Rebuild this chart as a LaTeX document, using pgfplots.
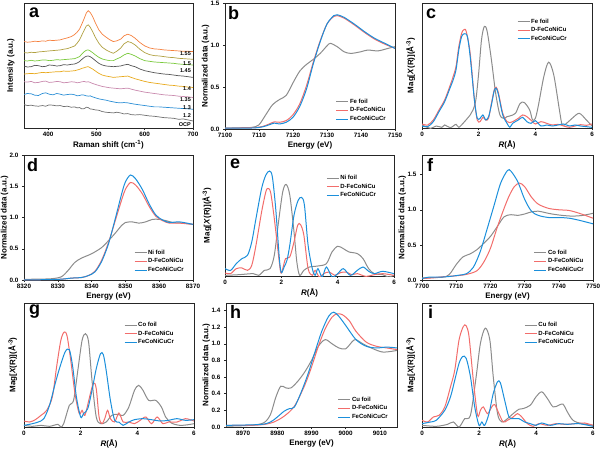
\documentclass[border=0pt]{standalone}
\usepackage{fontspec}
\setmainfont{Liberation Sans}
\usepackage{pgfplots}
\pgfplotsset{compat=1.18}

\definecolor{cgray}{HTML}{8C8C8C}
\definecolor{cred}{HTML}{F26D6B}
\definecolor{cblue}{HTML}{1B8FDB}
\definecolor{rOrange}{HTML}{F5803E}
\definecolor{rKhaki}{HTML}{B0A040}
\definecolor{rGreen}{HTML}{7AC93C}
\definecolor{rDark}{HTML}{555555}
\definecolor{rGold}{HTML}{E8A91C}
\definecolor{rPink}{HTML}{C98AAE}
\definecolor{rBlue}{HTML}{2C8FD5}
\definecolor{rGray}{HTML}{6F6F6F}

\pgfplotsset{
  legend image code/.code={\draw[#1, line width=1.1pt] (0pt,0pt) -- (12pt,0pt);},
}
\pgfplotsset{
  panel/.style={
    scale only axis, anchor=north west,
    axis line style={black!85, line width=0.6pt},
    tick style={black!85, line width=0.5pt},
    major tick length=2pt, tick align=outside,
    xtick pos=bottom, ytick pos=left,
    tick label style={font=\bfseries\fontsize{6.3}{7}\selectfont},
    label style={font=\bfseries\fontsize{8}{9}\selectfont},
    /pgf/number format/assume math mode=true,
    /pgf/number format/1000 sep={},
    xticklabel style={yshift=1pt},
    xlabel style={yshift=3pt},
    legend style={draw=none, fill=none, font=\bfseries\fontsize{6}{7}\selectfont,
      nodes={inner sep=1pt}, row sep=0.8pt},
    legend cell align=left,
    every axis plot/.append style={line width=1pt, mark=none},
  },
  yfix/.style={yticklabel style={/pgf/number format/fixed, /pgf/number format/fixed zerofill, /pgf/number format/precision=1}},
  exafs/.style={panel, y dir=reverse, xmin=0, xmax=6, xtick={0,2,4,6}, ytick=\empty,
    xlabel={\textit{R}(Å)}, ylabel={Mag[\textit{X}(R)](Å\textsuperscript{-3})},
    ylabel style={at={(axis description cs:-#1,0.5)}, anchor=south}},
  exafs/.default=0.02,
  xas/.style={panel, yfix, ylabel={Normalized data (a.u.)}, xlabel={Energy (eV)},
    ylabel style={at={(axis description cs:-0.072,0.5)}, anchor=south}},
}

\begin{document}
\begin{tikzpicture}
\useasboundingbox (0,0) rectangle (602pt,451pt);

% ---------------- a: Raman ----------------
\begin{axis}[panel, at={(24pt,448pt)}, width=169pt, height=125pt,
  xmin=350, xmax=700, xtick={400,500,600,700}, y dir=reverse, ymin=10, ymax=383, ytick=\empty,
  xlabel={Raman shift (cm\textsuperscript{-1})}, ylabel={Intensity (a.u.)},
  ylabel style={at={(axis description cs:-0.035,0.5)}, anchor=south},
  every axis plot/.append style={line width=0.7pt}]
\addplot[rOrange] coordinates {(350,125)(357,127)(365,126)(372,124)(380,125)(388,123)(395,124)(402,121)(410,122)(418,121)(425,120)(432,117)(440,114)(448,110)(455,104)(460,97)(465,88)(470,72)(475,55)(479,40)(483,33)(487,38)(492,50)(498,70)(505,90)(512,103)(520,112)(528,120)(535,125)(542,123)(550,118)(557,108)(565,103)(572,107)(580,115)(590,128)(600,138)(610,144)(620,147)(630,148)(640,150)(650,151)(660,152)(670,153)(680,154)(690,154)(700,155)};
\addplot[rKhaki] coordinates {(350,158)(357,159)(365,157)(372,158)(380,156)(388,155)(395,154)(402,153)(410,152)(418,151)(425,150)(432,148)(440,146)(448,142)(455,138)(460,130)(465,120)(470,105)(475,90)(479,79)(483,75)(487,82)(492,95)(498,113)(505,130)(512,142)(520,150)(528,156)(535,160)(542,154)(550,145)(557,132)(565,125)(572,128)(580,135)(590,148)(600,158)(610,164)(620,167)(630,168)(640,170)(650,172)(660,173)(670,175)(680,176)(690,177)(700,178)};
\addplot[rGreen] coordinates {(350,182)(357,183)(365,181)(372,183)(380,182)(388,180)(395,180)(402,182)(410,181)(418,179)(425,180)(432,179)(440,178)(448,177)(455,176)(460,173)(465,170)(470,162)(475,155)(479,151)(483,150)(487,153)(492,158)(498,165)(505,172)(512,177)(520,180)(528,182)(535,182)(542,177)(550,172)(557,165)(565,160)(572,163)(580,168)(590,176)(600,182)(610,184)(620,186)(630,187)(640,188)(650,189)(660,190)(670,192)(680,193)(690,194)(700,195)};
\addplot[rDark] coordinates {(350,198)(357,201)(365,200)(372,196)(380,197)(388,200)(395,199)(402,195)(410,196)(418,198)(425,197)(432,194)(440,195)(448,193)(455,192)(460,189)(465,185)(470,178)(475,172)(479,169)(483,168)(487,170)(492,175)(498,182)(505,190)(512,195)(520,198)(528,199)(535,200)(542,199)(550,198)(557,195)(565,193)(572,197)(580,200)(590,207)(600,212)(610,215)(620,218)(630,220)(640,222)(650,223)(660,225)(670,227)(680,228)(690,230)(700,232)};
\addplot[rGold] coordinates {(350,222)(357,221)(365,220)(372,221)(380,219)(388,217)(395,218)(402,217)(410,216)(418,215)(425,215)(432,213)(440,214)(448,213)(455,212)(460,210)(465,208)(470,205)(475,203)(479,201)(483,200)(487,203)(492,207)(498,213)(505,220)(512,225)(520,228)(528,230)(535,232)(542,231)(550,230)(557,229)(565,228)(572,232)(580,236)(590,240)(600,244)(610,247)(620,249)(630,251)(640,253)(650,255)(660,256)(670,258)(680,259)(690,261)(700,262)};
\addplot[rPink] coordinates {(350,245)(357,246)(365,244)(372,248)(380,247)(388,244)(395,243)(402,247)(410,246)(418,244)(425,245)(432,248)(440,247)(448,245)(455,246)(460,248)(465,247)(470,245)(475,244)(479,246)(483,245)(487,247)(492,250)(498,253)(505,256)(512,259)(520,261)(528,263)(535,264)(542,265)(550,266)(557,265)(565,264)(572,267)(580,270)(590,273)(600,276)(610,278)(620,280)(630,282)(640,284)(650,285)(660,286)(670,288)(680,289)(690,290)(700,292)};
\addplot[rBlue] coordinates {(350,283)(357,280)(365,281)(372,285)(380,286)(388,280)(395,278)(402,282)(410,284)(418,280)(425,282)(432,285)(440,283)(448,282)(455,284)(460,287)(465,286)(470,284)(475,285)(479,287)(483,288)(487,287)(492,290)(498,293)(505,296)(512,298)(520,300)(528,303)(535,305)(542,307)(550,308)(557,307)(565,308)(572,310)(580,312)(590,314)(600,316)(610,318)(620,320)(630,320)(640,321)(650,322)(660,323)(670,324)(680,325)(690,326)(700,327)};
\addplot[rGray] coordinates {(350,313)(357,316)(365,315)(372,317)(380,318)(388,316)(395,318)(402,314)(410,315)(418,317)(425,316)(432,319)(440,318)(448,321)(455,320)(460,323)(465,322)(470,326)(475,325)(479,321)(483,322)(487,326)(492,327)(498,329)(505,330)(512,334)(520,336)(528,337)(535,338)(542,336)(550,338)(557,341)(565,340)(572,343)(580,344)(590,343)(600,345)(610,347)(620,348)(630,350)(640,352)(650,353)(660,354)(670,357)(680,356)(690,359)(700,362)};
\begin{scope}[every node/.style={font=\bfseries\fontsize{5.5}{6}\selectfont, anchor=east, inner sep=0.5pt}]
\node at (axis cs:697,160) {1.55};
\node at (axis cs:697,190) {1.5};
\node at (axis cs:697,213) {1.45};
\node at (axis cs:697,265) {1.4};
\node at (axis cs:697,297) {1.35};
\node at (axis cs:697,322) {1.3};
\node at (axis cs:697,347) {1.2};
\node at (axis cs:697,374) {OCP};
\end{scope}
\end{axis}

% ---------------- b: Fe K-edge ----------------
\begin{axis}[xas, at={(225pt,448pt)}, width=170pt, height=126pt,
  xmin=7100, xmax=7150, xtick={7100,7110,...,7150}, ymin=0, ymax=1.5, ytick={0,0.5,1,1.5},
  legend style={at={(0.97,0.03)}, anchor=south east}]
\addplot[cgray, smooth] coordinates {(7100,0.01)(7105,0.015)(7108,0.02)(7110,0.05)(7112,0.17)(7114,0.29)(7116,0.35)(7118,0.40)(7120,0.55)(7122,0.69)(7124,0.77)(7126,0.83)(7128,0.90)(7130,0.99)(7131,1.02)(7133,0.98)(7135,0.92)(7137,0.90)(7140,0.92)(7142,0.94)(7145,0.93)(7148,0.96)(7150,0.98)};
\addplot[cred, smooth] coordinates {(7100,0.01)(7108,0.015)(7111,0.03)(7113,0.06)(7114.5,0.085)(7116,0.08)(7118,0.10)(7120,0.17)(7122,0.30)(7124,0.52)(7126,0.80)(7128,1.05)(7130,1.25)(7132,1.34)(7133,1.35)(7135,1.32)(7138,1.24)(7141,1.15)(7144,1.07)(7147,1.01)(7150,0.96)};
\addplot[cblue, smooth] coordinates {(7100,0.01)(7108,0.012)(7111,0.025)(7113,0.05)(7114.5,0.07)(7116,0.06)(7118,0.08)(7120,0.14)(7122,0.27)(7124,0.48)(7126,0.78)(7128,1.04)(7130,1.25)(7132,1.35)(7133,1.36)(7135,1.33)(7138,1.25)(7141,1.16)(7144,1.08)(7147,1.02)(7150,0.96)};
\legend{Fe foil, D-FeCoNiCu, FeCoNiCuCr}
\end{axis}

% ---------------- c: Fe EXAFS ----------------
\begin{axis}[exafs, at={(422pt,448pt)}, width=170pt, height=125pt, ymin=10, ymax=384,
  legend style={at={(0.54,0.9)}, anchor=north west}]
\addplot[cgray, smooth] coordinates {(0,375)(0.3,385)(0.5,378)(0.7,382)(0.8,375)(1.0,383)(1.2,373)(1.3,382)(1.5,365)(1.7,345)(1.8,330)(1.9,300)(2.0,220)(2.1,120)(2.2,80)(2.3,95)(2.45,180)(2.6,280)(2.75,345)(2.9,355)(3.0,350)(3.1,348)(3.3,340)(3.45,312)(3.6,307)(3.8,330)(3.9,360)(4.0,355)(4.1,320)(4.3,230)(4.47,187)(4.65,225)(4.85,330)(4.95,375)(5.1,370)(5.3,355)(5.55,340)(5.8,360)(6.0,378)};
\addplot[cred, smooth] coordinates {(0,372)(0.2,375)(0.4,360)(0.6,330)(0.8,300)(1.0,255)(1.1,230)(1.2,200)(1.3,140)(1.4,100)(1.48,90)(1.56,95)(1.7,160)(1.85,300)(1.95,360)(2.05,365)(2.15,352)(2.25,360)(2.35,355)(2.45,310)(2.55,270)(2.62,262)(2.7,280)(2.85,340)(3.0,365)(3.1,368)(3.2,365)(3.4,355)(3.55,345)(3.7,350)(3.9,365)(4.0,372)(4.2,365)(4.4,370)(4.6,375)(4.8,373)(5.0,378)(5.2,382)(5.4,378)(5.6,374)(5.8,376)(6.0,372)};
\addplot[cblue, smooth] coordinates {(0,378)(0.2,380)(0.4,365)(0.6,335)(0.8,305)(1.0,262)(1.1,240)(1.2,210)(1.3,150)(1.4,110)(1.5,102)(1.6,110)(1.7,170)(1.85,300)(1.95,355)(2.05,355)(2.15,345)(2.25,360)(2.35,350)(2.45,315)(2.55,272)(2.62,265)(2.7,285)(2.85,345)(3.0,370)(3.1,382)(3.2,370)(3.4,360)(3.55,352)(3.7,365)(3.85,370)(4.0,362)(4.2,378)(4.4,375)(4.6,378)(4.8,375)(5.0,372)(5.2,378)(5.4,375)(5.6,378)(5.8,380)(6.0,382)};
\legend{Fe foil, D-FeCoNiCu, FeCoNiCuCr}
\end{axis}

% ---------------- d: Ni K-edge ----------------
\begin{axis}[xas, at={(24pt,296pt)}, width=169pt, height=125pt,
  xmin=8320, xmax=8370, xtick={8320,8330,...,8370}, ymin=0, ymax=2, ytick={0,0.5,1,1.5,2},
  legend style={at={(0.97,0.03)}, anchor=south east}]
\addplot[cgray, smooth] coordinates {(8320,0.01)(8325,0.015)(8328,0.02)(8331,0.05)(8333,0.15)(8335,0.28)(8337,0.35)(8340,0.42)(8343,0.52)(8345,0.63)(8347,0.75)(8349,0.88)(8350,0.92)(8352,0.93)(8354,0.91)(8356,0.93)(8358,0.97)(8360,0.97)(8362,0.95)(8364,0.92)(8367,0.91)(8370,0.89)};
\addplot[cred, smooth] coordinates {(8320,0.0)(8330,0.01)(8334,0.03)(8337,0.04)(8339,0.07)(8341,0.14)(8343,0.32)(8345,0.60)(8347,0.95)(8349,1.30)(8350,1.45)(8351.5,1.56)(8353,1.52)(8355,1.38)(8357,1.18)(8359,1.02)(8361,0.95)(8363,0.91)(8366,0.91)(8370,0.89)};
\addplot[cblue, smooth] coordinates {(8320,0.0)(8330,0.01)(8334,0.03)(8337,0.04)(8339,0.07)(8341,0.13)(8343,0.30)(8345,0.58)(8347,0.98)(8349,1.40)(8350,1.57)(8351.5,1.68)(8353,1.62)(8355,1.45)(8357,1.22)(8359,1.04)(8361,0.96)(8363,0.92)(8366,0.93)(8370,0.89)};
\legend{Ni foil, D-FeCoNiCu, FeCoNiCuCr}
\end{axis}

% ---------------- e: Ni EXAFS ----------------
\begin{axis}[exafs=0.06, at={(225pt,296pt)}, width=169pt, height=121pt, ymin=30, ymax=392,
  legend style={at={(0.58,0.86)}, anchor=north west}]
\addplot[cgray, smooth] coordinates {(0,390)(0.5,388)(1.0,385)(1.2,390)(1.4,375)(1.6,370)(1.75,330)(1.9,230)(2.05,140)(2.17,118)(2.3,150)(2.45,260)(2.55,350)(2.65,390)(2.8,375)(3.0,365)(3.3,362)(3.6,355)(3.8,320)(4.0,303)(4.2,310)(4.4,320)(4.7,325)(4.9,340)(5.1,370)(5.3,385)(5.6,388)(5.8,395)(6.0,390)};
\addplot[cred, smooth] coordinates {(0,383)(0.2,385)(0.4,370)(0.6,368)(0.8,375)(0.95,360)(1.1,300)(1.3,200)(1.45,140)(1.52,130)(1.62,142)(1.75,220)(1.9,330)(1.98,382)(2.05,370)(2.15,340)(2.3,335)(2.45,290)(2.58,240)(2.68,238)(2.8,270)(2.95,370)(3.1,390)(3.2,375)(3.35,395)(3.5,385)(3.7,380)(3.9,390)(4.1,382)(4.3,380)(4.5,388)(4.7,385)(5.0,393)(5.3,388)(5.6,385)(6.0,390)};
\addplot[cblue, smooth] coordinates {(0,370)(0.2,375)(0.4,355)(0.6,340)(0.8,330)(0.95,290)(1.1,220)(1.3,130)(1.45,90)(1.58,78)(1.68,95)(1.8,190)(1.93,340)(2.0,382)(2.1,365)(2.2,345)(2.3,300)(2.45,210)(2.6,165)(2.72,157)(2.82,180)(2.95,300)(3.1,370)(3.2,390)(3.3,370)(3.45,395)(3.6,365)(3.8,395)(4.0,385)(4.2,370)(4.45,390)(4.7,375)(4.9,365)(5.1,378)(5.3,385)(5.6,378)(6.0,385)};
\legend{Ni foil, D-FeCoNiCu, FeCoNiCuCr}
\end{axis}

% ---------------- f: Co K-edge ----------------
\begin{axis}[xas, at={(422pt,296pt)}, width=171pt, height=125pt,
  xmin=7700, xmax=7750, xtick={7700,7710,...,7750}, ymin=0, ymax=1.78, ytick={0,0.5,1,1.5},
  legend style={at={(0.97,0.03)}, anchor=south east}]
\addplot[cgray, smooth] coordinates {(7700,0.03)(7706,0.04)(7708,0.08)(7710,0.22)(7712,0.33)(7714,0.37)(7716,0.43)(7718,0.52)(7720,0.62)(7722,0.76)(7724,0.90)(7726,0.93)(7728,0.92)(7730,0.94)(7732,0.97)(7734,0.98)(7736,0.96)(7738,0.94)(7741,0.92)(7744,0.91)(7747,0.92)(7750,0.95)};
\addplot[cred, smooth] coordinates {(7700,0.02)(7703,0.03)(7707,0.05)(7710,0.06)(7713,0.08)(7716,0.13)(7718,0.25)(7720,0.45)(7722,0.75)(7724,1.02)(7725.5,1.20)(7727,1.33)(7728.5,1.38)(7730,1.33)(7732,1.18)(7734,1.08)(7737,1.02)(7740,1.00)(7743,0.99)(7746,0.95)(7750,0.88)};
\addplot[cblue, smooth] coordinates {(7700,0.02)(7702,0.04)(7705,0.04)(7708,0.05)(7711,0.07)(7713,0.09)(7715,0.18)(7717,0.40)(7719,0.72)(7721,1.05)(7723,1.38)(7725,1.56)(7726,1.55)(7728,1.40)(7730,1.15)(7732,0.98)(7734,0.92)(7737,0.89)(7740,0.89)(7743,0.88)(7746,0.85)(7750,0.80)};
\legend{Co foil, D-FeCoNiCu, FeCoNiCuCr}
\end{axis}

% ---------------- g: Co EXAFS ----------------
\begin{axis}[exafs, at={(24pt,148pt)}, width=170pt, height=124pt, ymin=38, ymax=410,
  legend style={at={(0.57,0.87)}, anchor=north west}]
\addplot[cgray, smooth] coordinates {(0,405)(0.3,408)(0.6,405)(0.9,408)(1.2,402)(1.3,410)(1.4,400)(1.6,345)(1.75,330)(1.9,240)(2.05,150)(2.17,130)(2.28,155)(2.4,270)(2.55,380)(2.7,400)(2.9,395)(3.1,375)(3.3,372)(3.5,375)(3.7,350)(3.9,300)(4.05,285)(4.2,300)(4.4,330)(4.65,330)(4.85,350)(5.0,380)(5.2,398)(5.5,405)(5.8,403)(6.0,400)};
\addplot[cred, smooth] coordinates {(0,392)(0.2,395)(0.4,388)(0.6,375)(0.8,360)(1.0,320)(1.15,230)(1.3,150)(1.42,125)(1.52,137)(1.65,210)(1.8,310)(1.95,370)(2.05,360)(2.15,375)(2.3,325)(2.45,278)(2.55,295)(2.65,380)(2.75,400)(2.85,385)(2.95,360)(3.05,385)(3.2,395)(3.35,368)(3.5,395)(3.7,395)(3.9,400)(4.1,390)(4.3,380)(4.5,400)(4.7,380)(4.9,400)(5.1,395)(5.4,395)(5.7,385)(6.0,392)};
\addplot[cblue, smooth] coordinates {(0,405)(0.3,400)(0.5,395)(0.7,385)(0.9,345)(1.1,280)(1.25,235)(1.45,185)(1.6,178)(1.72,230)(1.85,320)(2.0,380)(2.1,370)(2.25,355)(2.4,300)(2.55,235)(2.7,190)(2.8,193)(2.9,240)(3.05,330)(3.2,390)(3.35,395)(3.5,405)(3.7,395)(3.9,388)(4.2,385)(4.5,388)(4.8,392)(5.1,390)(5.4,385)(5.7,390)(6.0,388)};
\legend{Co foil, D-FeCoNiCu, FeCoNiCuCr}
\end{axis}

% ---------------- h: Cu K-edge ----------------
\begin{axis}[xas, at={(226pt,148pt)}, width=171pt, height=124pt,
  xmin=8965, xmax=9015, xtick={8970,8980,...,9010}, ymin=0, ymax=1.49, ytick={0,0.2,...,1.4},
  legend style={at={(0.97,0.03)}, anchor=south east}]
\addplot[cgray, smooth] coordinates {(8965,0.01)(8972,0.02)(8976,0.05)(8978,0.15)(8979.5,0.35)(8981,0.49)(8982.5,0.47)(8984,0.47)(8986,0.55)(8988,0.66)(8990,0.80)(8992,0.97)(8994,1.05)(8996,1.00)(8998,0.95)(9000,0.94)(9002,1.03)(9003,1.05)(9005,1.00)(9008,0.94)(9011,0.90)(9015,0.92)};
\addplot[cred, smooth] coordinates {(8965,0.02)(8972,0.02)(8976,0.03)(8979,0.06)(8982,0.13)(8985,0.25)(8988,0.50)(8990,0.72)(8992,0.97)(8994,1.18)(8996,1.32)(8997.5,1.36)(8999,1.35)(9001,1.28)(9003,1.15)(9006,1.02)(9009,0.97)(9012,0.95)(9015,0.93)};
\addplot[cblue, smooth] coordinates {(8965,0.02)(8975,0.03)(8978,0.06)(8980,0.12)(8982,0.19)(8983.5,0.22)(8985,0.24)(8987,0.42)(8989,0.64)(8991,0.90)(8993,1.15)(8995,1.33)(8996.5,1.38)(8998,1.33)(9000,1.22)(9003,1.05)(9006,0.97)(9009,0.95)(9012,0.96)(9015,0.95)};
\legend{Cu foil, D-FeCoNiCu, FeCoNiCuCr}
\end{axis}

% ---------------- i: Cu EXAFS ----------------
\begin{axis}[exafs, at={(422pt,148pt)}, width=171pt, height=124pt, ymin=40, ymax=410,
  legend style={at={(0.58,0.87)}, anchor=north west}]
\addplot[cgray, smooth] coordinates {(0,405)(0.5,408)(0.9,402)(1.1,395)(1.3,410)(1.5,385)(1.7,375)(1.9,260)(2.05,160)(2.22,115)(2.38,150)(2.5,260)(2.65,370)(2.8,395)(3.0,385)(3.2,370)(3.4,357)(3.55,355)(3.8,345)(4.0,320)(4.2,305)(4.4,325)(4.6,350)(4.8,345)(4.95,342)(5.1,365)(5.3,390)(5.6,400)(6.0,405)};
\addplot[cred, smooth] coordinates {(0,390)(0.2,395)(0.4,380)(0.6,375)(0.8,350)(1.0,290)(1.15,240)(1.3,150)(1.45,110)(1.55,108)(1.65,140)(1.8,270)(1.95,375)(2.05,360)(2.15,350)(2.3,370)(2.45,350)(2.55,343)(2.7,370)(2.85,395)(3.0,390)(3.2,380)(3.35,370)(3.5,380)(3.7,400)(3.9,408)(4.1,400)(4.4,405)(4.7,400)(5.0,402)(5.4,400)(5.7,398)(6.0,405)};
\addplot[cblue, smooth] coordinates {(0,400)(0.3,395)(0.5,390)(0.8,360)(1.0,320)(1.15,270)(1.3,220)(1.42,200)(1.55,205)(1.7,260)(1.85,350)(2.0,405)(2.1,395)(2.2,405)(2.35,370)(2.5,310)(2.65,275)(2.75,278)(2.9,330)(3.05,380)(3.2,385)(3.4,385)(3.6,395)(3.8,400)(4.0,405)(4.2,398)(4.5,405)(4.8,400)(5.1,402)(5.5,400)(6.0,408)};
\legend{Cu foil, D-FeCoNiCu, FeCoNiCuCr}
\end{axis}

% ---------------- panel letters ----------------
\begin{scope}[every node/.style={font=\bfseries\fontsize{18}{18}\selectfont, anchor=base west, inner sep=0pt}]
\node at (29pt,433pt) {a};
\node at (228pt,431pt) {b};
\node at (426pt,432pt) {c};
\node at (27pt,280pt) {d};
\node at (230pt,283pt) {e};
\node at (427pt,280pt) {f};
\node at (29pt,137pt) {g};
\node at (230pt,133pt) {h};
\node at (428pt,133pt) {i};
\end{scope}
\end{tikzpicture}
\end{document}
